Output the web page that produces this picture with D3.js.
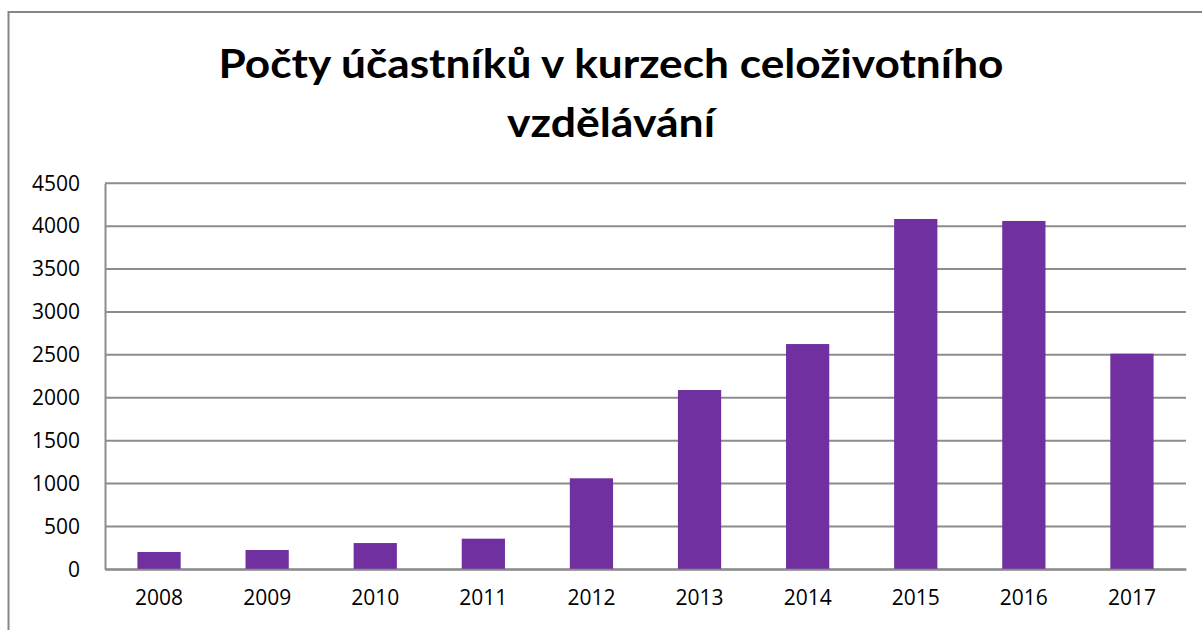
<!DOCTYPE html>
<html>
<head>
<meta charset="utf-8">
<script src="https://cdn.jsdelivr.net/npm/d3@7"></script>
<style>
  body { margin: 0; background: #fff; }
</style>
</head>
<body>
<div id="my_dataviz"></div>
<script>
// data
var years = ["2008", "2009", "2010", "2011", "2012", "2013", "2014", "2015", "2016", "2017"];
var participants = [202, 225, 306, 357, 1061, 2090, 2626, 4084, 4061, 2514];
var yTicks = [0, 500, 1000, 1500, 2000, 2500, 3000, 3500, 4000, 4500];
var titleLines = ["Počty účastníků v kurzech celoživotního", "vzdělávání"];

var W = 1202, H = 630;
var margin = {top: 183.3, right: 16, bottom: 60.7, left: 105},
    width = W - margin.left - margin.right,
    height = H - margin.top - margin.bottom;

var svgRoot = d3.select("#my_dataviz")
  .append("svg")
    .attr("width", W)
    .attr("height", H);

svgRoot.append("rect")
  .attr("width", W).attr("height", H)
  .attr("fill", "#fff");

// chart frame (runs off the right and bottom edge)
svgRoot.append("rect")
  .attr("x", 8.5).attr("y", 12)
  .attr("width", W + 20).attr("height", H + 20)
  .attr("fill", "none")
  .attr("stroke", "#868686")
  .attr("stroke-width", 2);

// title
var titleWidths = [785, 208];
svgRoot.selectAll("text.title")
  .data(titleLines)
  .enter()
  .append("text")
    .attr("class", "title")
    .attr("x", 611)
    .attr("y", function(d, i) { return 78 + i * 58.5; })
    .attr("text-anchor", "middle")
    .attr("textLength", function(d, i) { return titleWidths[i]; })
    .attr("lengthAdjust", "spacingAndGlyphs")
    .style("font-family", "Lato, 'Open Sans', sans-serif")
    .style("font-weight", "bold")
    .style("font-size", "40px")
    .attr("fill", "#000")
    .text(function(d) { return d; });

var svg = svgRoot.append("g")
  .attr("transform", "translate(" + margin.left + "," + margin.top + ")");

// scales
var x = d3.scaleBand()
  .domain(years)
  .range([0, width])
  .paddingInner(0.6)
  .paddingOuter(0.3);

var y = d3.scaleLinear()
  .domain([0, 4500])
  .range([height, 0]);

// gridlines
svg.selectAll("line.grid")
  .data(yTicks)
  .enter()
  .append("line")
    .attr("class", "grid")
    .attr("x1", 0).attr("x2", width)
    .attr("y1", function(d) { return y(d); })
    .attr("y2", function(d) { return y(d); })
    .attr("stroke", "#8c8c8c")
    .attr("stroke-width", 2);

// y axis
var yAxis = svg.append("g")
  .call(d3.axisLeft(y).tickValues(yTicks).tickFormat(d3.format("d")).tickSize(0).tickPadding(25));
yAxis.select(".domain").attr("stroke", "#8c8c8c").attr("stroke-width", 2);
yAxis.selectAll("text")
  .style("font-family", "'Open Sans', sans-serif")
  .style("font-size", "21px")
  .attr("fill", "#000");

// bars
svg.selectAll("mybar")
  .data(participants)
  .enter()
  .append("rect")
    .attr("x", function(d, i) { return x(years[i]); })
    .attr("y", function(d) { return y(d); })
    .attr("width", x.bandwidth())
    .attr("height", function(d) { return height - y(d); })
    .attr("fill", "#7030A0");

// x axis
var xAxis = svg.append("g")
  .attr("transform", "translate(0," + height + ")")
  .call(d3.axisBottom(x).tickSize(0).tickPadding(21));
xAxis.select(".domain").attr("stroke", "#8c8c8c").attr("stroke-width", 2);
xAxis.selectAll("text")
  .style("font-family", "'Open Sans', sans-serif")
  .style("font-size", "21px")
  .attr("fill", "#000");
</script>
</body>
</html>
